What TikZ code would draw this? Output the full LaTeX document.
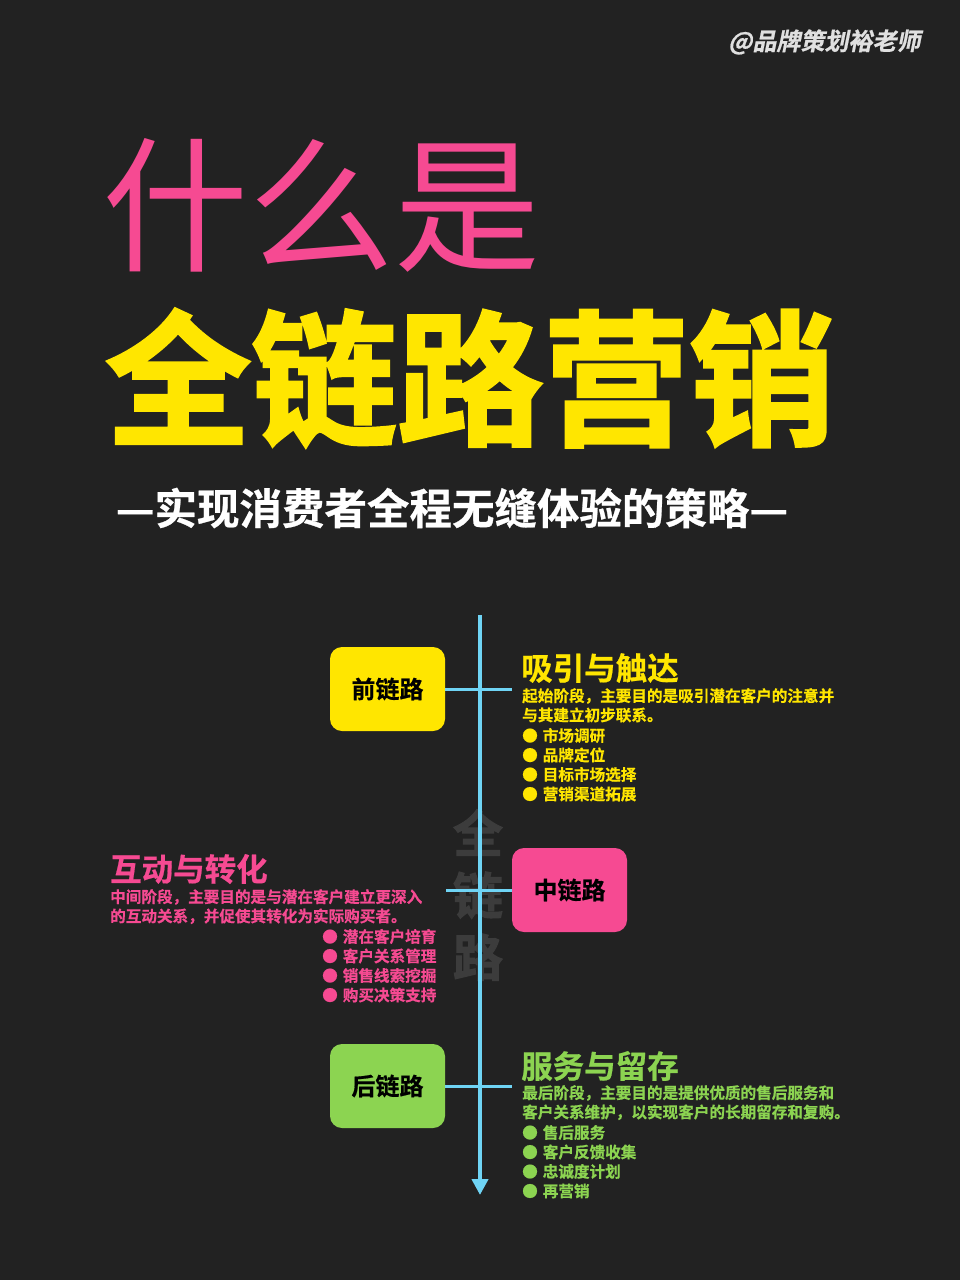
\documentclass[tikz,border=0pt]{standalone}
\usepackage{fontspec}
\setmainfont{Noto Sans CJK SC}
\newfontfamily\cjkb{Noto Sans CJK SC Bold}
\newfontfamily\cjkf[FakeBold=2]{Noto Sans CJK SC Bold}
\newfontfamily\cjkm[FakeBold=0.6]{Noto Sans CJK SC Bold}
\newfontfamily\cjks[FakeSlant=0.2,FakeBold=0.8]{Noto Sans CJK SC Bold}
\usetikzlibrary{arrows.meta}
\definecolor{bg}{HTML}{222222}
\definecolor{yel}{HTML}{FFE600}
\definecolor{pnk}{HTML}{F64A92}
\definecolor{grn}{HTML}{8CD451}
\definecolor{blu}{HTML}{6FD4F5}
\definecolor{wm}{HTML}{3C3C3C}
\tikzset{
 x=1pt,y=-1pt,
 stage/.style={rounded corners=12pt,minimum width=115pt,minimum height=84pt,font=\cjkm\fontsize{24}{24}\selectfont,text=black},
 head/.style={anchor=west,font=\cjkm\fontsize{31.5}{31.5}\selectfont},
 desc/.style={anchor=north west,align=left,font=\cjkm\fontsize{15.6}{19.3}\selectfont,inner sep=0pt},
 bul/.style={anchor=west,font=\cjkm\fontsize{15.6}{15.6}\selectfont,inner sep=0pt},
 link/.style={blu,line width=4pt},
}
\begin{document}
\begin{tikzpicture}
\fill[bg] (0,0) rectangle (960,1280);
\useasboundingbox (0,0) rectangle (960,1280);
\node[anchor=east,text=white!88!black,font=\cjks\fontsize{24}{24}\selectfont] (sig) at (924,42) {@品牌策划裕老师};
\node[anchor=west,text=pnk,font=\fontsize{146}{146}\selectfont,inner sep=0pt] (t1) at (102,205) {什么是};
\node[anchor=west,text=yel,font=\cjkf\fontsize{146}{146}\selectfont,inner sep=0pt] (t2) at (105,378) {全链路营销};
\node[text=white,font=\cjkm\fontsize{42.5}{42.5}\selectfont,inner sep=0pt] (t3) at (452,508) {—实现消费者全程无缝体验的策略—};
% watermark
\node[text=wm,font=\cjkf\fontsize{50}{62}\selectfont,align=center,inner sep=0pt] (wmk) at (478,895) {全\\链\\路};
% axis
\coordinate (top) at (480,615);
\coordinate (bot) at (480,1195);
\draw[link,-{Triangle[length=16pt,width=16pt]}] (top) -- (bot);
\node[stage,fill=yel] (s1) at (387.5,689) {前链路};
\node[stage,fill=pnk] (s2) at (569.5,890) {中链路};
\node[stage,fill=grn] (s3) at (387.5,1086) {后链路};
\coordinate (e1) at (512,689);
\coordinate (e2) at (446,890);
\coordinate (e3) at (512,1086);
\draw[link,line width=3pt] (s1.east) -- (e1);
\draw[link,line width=3pt] (s2.west) -- (e2);
\draw[link,line width=3pt] (s3.east) -- (e3);
% block 1
\node[head,text=yel,inner sep=0pt] (h1) at (521,668) {吸引与触达};
\node[desc,text=yel] (d1) at (522,688) {起始阶段，主要目的是吸引潜在客户的注意并\\与其建立初步联系。};
\foreach \t [count=\i] in {市场调研,品牌定位,目标市场选择,营销渠道拓展}{
 \node[bul,text=yel] (b1\i) at (522,716+19.5*\i) {●\hspace{5pt}\t};
}
% block 2
\node[head,text=pnk,inner sep=0pt] (h2) at (110,869) {互动与转化};
\node[desc,text=pnk] (d2) at (110,889) {中间阶段，主要目的是与潜在客户建立更深入\\的互动关系，并促使其转化为实际购买者。};
\foreach \t [count=\i] in {潜在客户培育,客户关系管理,销售线索挖掘,购买决策支持}{
 \node[bul,text=pnk] (b2\i) at (322,917+19.5*\i) {●\hspace{5pt}\t};
}
% block 3
\node[head,text=grn,inner sep=0pt] (h3) at (521,1066) {服务与留存};
\node[desc,text=grn] (d3) at (522,1085) {最后阶段，主要目的是提供优质的售后服务和\\客户关系维护，以实现客户的长期留存和复购。};
\foreach \t [count=\i] in {售后服务,客户反馈收集,忠诚度计划,再营销}{
 \node[bul,text=grn] (b3\i) at (522,1113+19.5*\i) {●\hspace{5pt}\t};
}
\end{tikzpicture}
\end{document}
